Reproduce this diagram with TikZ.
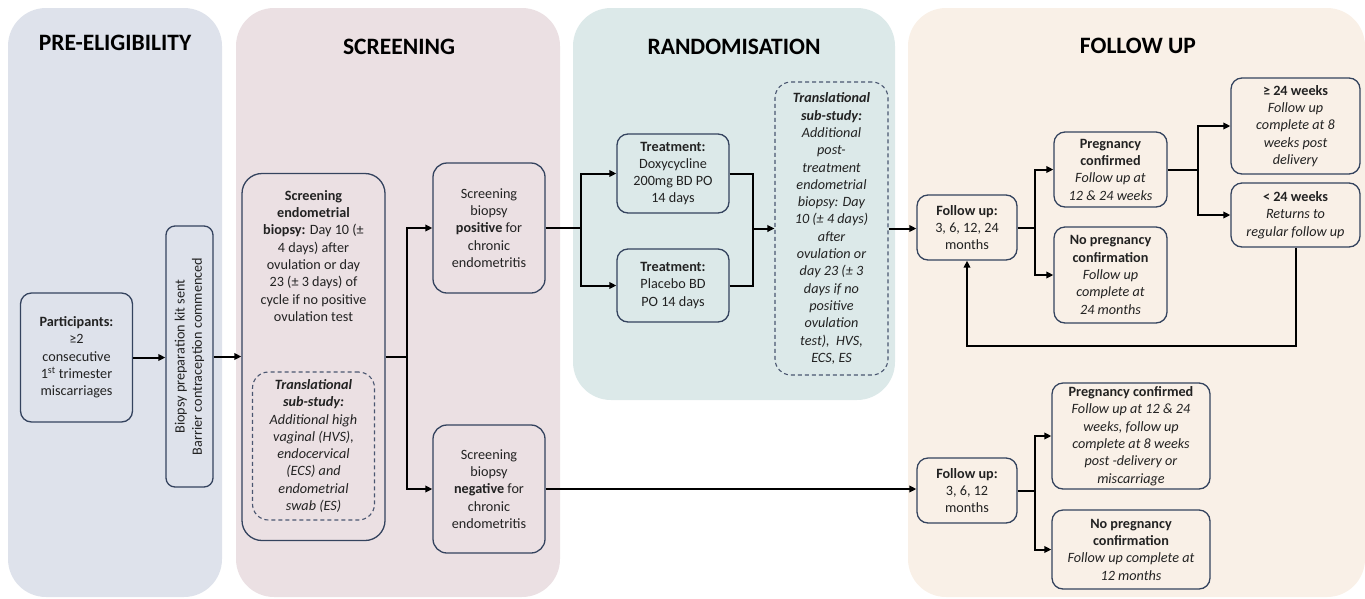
\documentclass[tikz,border=0pt]{standalone}
\usepackage{fontspec}
\setmainfont{Carlito}
\usetikzlibrary{arrows.meta}
\definecolor{preC}{HTML}{DEE2EB}
\definecolor{scrC}{HTML}{EBE0E3}
\definecolor{ranC}{HTML}{DCE9E9}
\definecolor{fuC}{HTML}{F9F0E7}
\definecolor{boxC}{HTML}{34435E}
\definecolor{dashC}{HTML}{4A5670}
\definecolor{txtC}{HTML}{222222}
\begin{document}
\begin{tikzpicture}[x=1pt,y=-1pt,
  box/.style={draw=boxC, line width=1.3pt, rounded corners=11pt, align=center, inner sep=0pt, text=txtC, font=\fontsize{14.2}{17.3}\selectfont},
  dbox/.style={box, draw=dashC, dash pattern=on 4pt off 3pt, line width=1.1pt, rounded corners=16pt},
  plain/.style={align=center, inner sep=0pt, text=txtC, font=\fontsize{14.2}{17.3}\selectfont},
  conn/.style={line width=2pt, black},
  arr/.style={conn, -{Triangle[length=7pt,width=6.5pt]}},
  title/.style={font=\fontsize{23.5}{28}\selectfont\bfseries, text=black, anchor=base},
  panel/.style={rounded corners=38pt}]

\useasboundingbox (0,0) rectangle (1365,598);

% panels
\fill[preC, panel] (8,8) rectangle (222,597);
\fill[scrC, panel] (236,8) rectangle (560,597);
\fill[ranC, panel] (573,8) rectangle (895,400);
\fill[fuC, panel] (908,8) rectangle (1365,597);

% titles
\node[title] (tpre) at (115,50) {PRE-ELIGIBILITY};
\node[title] (tscr) at (399,54) {SCREENING};
\node[title] (tran) at (734,54) {RANDOMISATION};
\node[title] (tfu) at (1138,53) {FOLLOW UP};

% pre-eligibility
\node[box, minimum width=112pt, minimum height=129pt] (part) at (76.5,357.5)
  {\textbf{Participants:}\\ ≥2\\ consecutive\\ 1\textsuperscript{st} trimester\\ miscarriages};
\node[box, rotate=90, minimum width=261pt, minimum height=47pt, rounded corners=9pt] (kit) at (189.5,356.5)
  {Biopsy preparation kit sent\\ Barrier contraception commenced};

% screening
\node[box, minimum width=143pt, minimum height=367pt, rounded corners=20pt] (scrbx) at (313.5,357) {};
\node[plain] (scrtxt) at (313.5,256)
  {\textbf{Screening}\\ \textbf{endometrial}\\ \textbf{biopsy:} Day 10 (±\\ 4 days) after\\ ovulation or day\\ 23 (± 3 days) of\\ cycle if no positive\\ ovulation test};
\node[dbox, minimum width=122pt, minimum height=148pt] (trans1) at (313.5,446)
  {\itshape\bfseries Translational\\ \itshape\bfseries sub-study:\\ \itshape Additional high\\ \itshape vaginal (HVS),\\ \itshape endocervical\\ \itshape (ECS) and\\ \itshape endometrial\\ \itshape swab (ES)};
\node[box, minimum width=112pt, minimum height=130pt, rounded corners=14pt] (pos) at (489,228)
  {Screening\\ biopsy\\ \textbf{positive} for\\ chronic\\ endometritis};
\node[box, minimum width=112pt, minimum height=128pt, rounded corners=14pt] (neg) at (489,489)
  {Screening\\ biopsy\\ \textbf{negative} for\\ chronic\\ endometritis};

% randomisation
\node[box, minimum width=112pt, minimum height=79pt] (doxy) at (673,173.5)
  {\textbf{Treatment:}\\ Doxycycline\\ 200mg BD PO\\ 14 days};
\node[box, minimum width=112pt, minimum height=73pt] (plac) at (673,285.5)
  {\textbf{Treatment:}\\ Placebo BD\\ PO 14 days};
\node[dbox, minimum width=113pt, minimum height=293pt] (trans2) at (831.5,228.5)
  {\itshape\bfseries Translational\\ \itshape\bfseries sub-study:\\ \itshape Additional\\ \itshape post-\\ \itshape treatment\\ \itshape endometrial\\ \itshape biopsy: Day\\ \itshape 10 (± 4 days)\\ \itshape after\\ \itshape ovulation or\\ \itshape day 23 (± 3\\ \itshape days if no\\ \itshape positive\\ \itshape ovulation\\ \itshape test),~~HVS,\\ \itshape ECS, ES};

% follow up (upper)
\node[box, minimum width=100pt, minimum height=65pt] (fu1) at (967,227.5)
  {\textbf{Follow up:}\\ 3, 6, 12, 24\\ months};
\node[box, minimum width=113pt, minimum height=75pt] (pc) at (1110.5,169.5)
  {\textbf{Pregnancy}\\ \textbf{confirmed}\\ \textit{Follow up at}\\ \textit{12 \& 24 weeks}};
\node[box, minimum width=113pt, minimum height=96pt] (np) at (1110.5,275)
  {\textbf{No pregnancy}\\ \textbf{confirmation}\\ \textit{Follow up}\\ \textit{complete at}\\ \textit{24 months}};
\node[box, minimum width=129pt, minimum height=96pt] (ge) at (1295.5,126)
  {\textbf{≥ 24 weeks}\\ \textit{Follow up}\\ \textit{complete at 8}\\ \textit{weeks post}\\ \textit{delivery}};
\node[box, minimum width=129pt, minimum height=64pt] (lt) at (1295.5,215)
  {\textbf{< 24 weeks}\\ \textit{Returns to}\\ \textit{regular follow up}};

% follow up (lower)
\node[box, minimum width=100pt, minimum height=65pt] (fu2) at (967,490.5)
  {\textbf{Follow up:}\\ 3, 6, 12\\ months};
\node[box, minimum width=158pt, minimum height=106pt] (pc2) at (1131,436)
  {\textbf{Pregnancy confirmed}\\ \textit{Follow up at 12 \& 24}\\ \textit{weeks, follow up}\\ \textit{complete at 8 weeks}\\ \textit{post -delivery or}\\ \textit{miscarriage}};
\node[box, minimum width=158pt, minimum height=79pt] (np2) at (1131,549.5)
  {\textbf{No pregnancy}\\ \textbf{confirmation}\\ \textit{Follow up complete at}\\ \textit{12 months}};

% junction coordinates
\coordinate (s1) at (407,357);
\coordinate (r1) at (581,228);
\coordinate (m1) at (753,228.5);
\coordinate (f1) at (1035,227.5);
\coordinate (g1) at (1198,169.5);
\coordinate (ret) at (1296,346);
\coordinate (f2) at (1035,490.5);

% connectors
\draw[arr] (part.east) -- (part.east -| kit.north);
\draw[arr] (kit.south) -- (kit.south -| scrbx.west);
\draw[conn] (scrbx.east) -- (s1);
\draw[arr] (s1) |- (pos.west);
\draw[arr] (s1) |- (neg.west);
\draw[conn] (pos.east) -- (r1);
\draw[arr] (r1) |- (doxy.west);
\draw[arr] (r1) |- (plac.west);
\draw[conn] (doxy.east) -| (m1);
\draw[conn] (plac.east) -| (m1);
\draw[arr] (m1) -- (m1 -| trans2.west);
\draw[arr] (trans2.east) -- (trans2.east -| fu1.west);
\draw[conn] (fu1.east) -- (f1);
\draw[arr] (f1) |- (pc.west);
\draw[arr] (f1) |- (np.west);
\draw[conn] (pc.east) -- (g1);
\draw[arr] (g1) |- (ge.west);
\draw[arr] (g1) |- (lt.west);
\draw[arr] (lt.south) -- (lt.south |- ret) -| (fu1.south);
\draw[arr] (neg.east) -- (neg.east -| fu2.west);
\draw[conn] (fu2.east) -- (f2);
\draw[arr] (f2) |- (pc2.west);
\draw[arr] (f2) |- (np2.west);
\end{tikzpicture}
\end{document}
